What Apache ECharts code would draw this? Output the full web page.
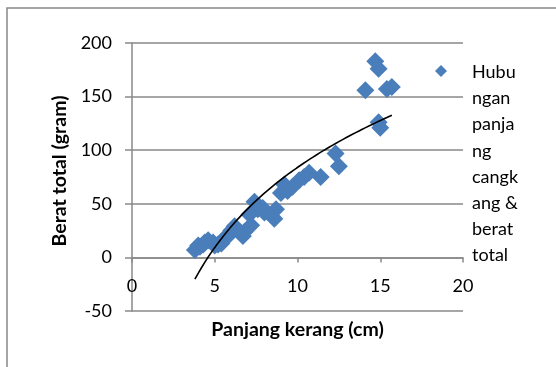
<!DOCTYPE html>
<html>
<head>
<meta charset="utf-8">
<script src="https://cdn.jsdelivr.net/npm/echarts@6/dist/echarts.min.js"></script>
<style>
html,body{margin:0;padding:0;background:#fff;}
#chart{width:556px;height:367px;}
</style>
</head>
<body>
<div id="chart"></div>
<script>
// Panjang kerang (cm)
const xValues = [3.8, 4.0, 4.1, 4.3, 4.4, 4.6, 4.9, 5.0, 5.2, 5.4, 5.6, 5.8, 6.0, 6.2, 6.7, 6.8, 7.1, 7.2, 7.4, 7.6, 7.9, 8.0, 8.6, 8.7, 9.0, 9.2, 9.4, 9.7, 10.1, 10.4, 10.7, 11.4, 12.3, 12.5, 14.1, 14.7, 14.9, 14.9, 15.0, 15.4, 15.7];
// Berat total (gram)
const yValues = [7, 11, 10, 12, 14, 16, 14, 11, 12, 13, 18, 20, 25, 29, 20, 24, 40, 30, 52, 45, 46, 42, 36, 45, 60, 68, 62, 66, 72, 75, 79, 75, 97, 85, 156, 183, 176, 126, 121, 157, 159];
const seriesName = 'Hubungan panjang cangkang & berat total';
const legendLines = ['Hubu', 'ngan', 'panja', 'ng', 'cangk', 'ang &', 'berat', 'total'];
const xTicks = [0, 5, 10, 15, 20];
const yTicks = [-50, 0, 50, 100, 150, 200];

// logarithmic trendline (least squares on ln x), like the spreadsheet trendline
function logFit(xs, ys) {
  const n = xs.length;
  let sx = 0, sy = 0, sxx = 0, sxy = 0;
  for (let i = 0; i < n; i++) {
    const l = Math.log(xs[i]);
    sx += l; sy += ys[i]; sxx += l * l; sxy += l * ys[i];
  }
  const a = (n * sxy - sx * sy) / (n * sxx - sx * sx);
  const b = (sy - a * sx) / n;
  return { a, b };
}
const fit = logFit(xValues, yValues);
const xMin = Math.min(...xValues), xMax = Math.max(...xValues);
const trend = [];
for (let i = 0; i <= 60; i++) {
  const x = xMin + (xMax - xMin) * i / 60;
  trend.push([x, fit.a * Math.log(x) + fit.b]);
}

const FONT = 'Lato, "Open Sans", sans-serif';
const gray = '#898989';
const gridTop = 43, gridBottom = 56, H = 367;
const plotH = H - gridTop - gridBottom;
const yMin = yTicks[0], yMax = yTicks[yTicks.length - 1];
// move x axis from the bottom of the plot up to the y = 0 line (axis crosses at 0)
const zeroOffset = -plotH * (0 - yMin) / (yMax - yMin);

const chart = echarts.init(document.getElementById('chart'), null, { renderer: 'canvas' });
chart.setOption({
  animation: false,
  backgroundColor: '#fff',
  textStyle: { fontFamily: FONT },
  grid: { left: 132, right: 93, top: gridTop, bottom: gridBottom, containLabel: false, outerBoundsMode: 'none' },
  xAxis: {
    type: 'value', min: xTicks[0], max: xTicks[xTicks.length - 1], interval: 5,
    position: 'bottom', offset: zeroOffset,
    name: 'Panjang kerang (cm)', nameLocation: 'middle', nameGap: 62,
    nameTextStyle: { fontFamily: FONT, fontSize: 19.5, fontWeight: 'bold', color: '#000' },
    axisLine: { onZero: false, lineStyle: { color: gray, width: 1.5 } },
    axisTick: { show: true, length: 5, lineStyle: { color: gray, width: 1.5 } },
    axisLabel: { fontFamily: FONT, fontSize: 18, color: '#000', margin: 20 },
    splitLine: { show: false }
  },
  yAxis: {
    type: 'value', min: yMin, max: yMax, interval: 50,
    name: 'Berat total (gram)', nameLocation: 'middle', nameGap: 60,
    nameTextStyle: { fontFamily: FONT, fontSize: 19.5, fontWeight: 'bold', color: '#000', padding: [0, 0, 0, 12] },
    axisLine: { show: true, onZero: false, lineStyle: { color: gray, width: 1.5 } },
    axisTick: { show: true, length: 7, lineStyle: { color: gray, width: 1.5 } },
    axisLabel: { fontFamily: FONT, fontSize: 18, color: '#000', margin: 20 },
    splitLine: { show: true, lineStyle: { color: gray, width: 1.5 } }
  },
  series: [
    {
      name: seriesName, type: 'scatter', symbol: 'diamond', symbolSize: 18,
      itemStyle: { color: '#4a7ebb', opacity: 1 },
      data: xValues.map((x, i) => [x, yValues[i]]), z: 2
    },
    {
      name: 'trend', type: 'line', data: trend, showSymbol: false, symbol: 'none',
      smooth: false, lineStyle: { color: '#000', width: 1.6 }, z: 3, silent: true
    }
  ],
  graphic: [
    { type: 'rect', shape: { x: 7, y: 8, width: 600, height: 400 },
      style: { fill: 'none', stroke: '#888', lineWidth: 1.5 }, silent: true },
    { type: 'polygon', shape: { points: [[441, 65], [447, 71], [441, 77], [435, 71]] },
      style: { fill: '#4a7ebb' } },
    { type: 'text', x: 472, y: 59,
      style: { text: legendLines.join('\n'), font: '18px ' + FONT, fill: '#000', lineHeight: 26.2 } }
  ]
});
</script>
</body>
</html>
